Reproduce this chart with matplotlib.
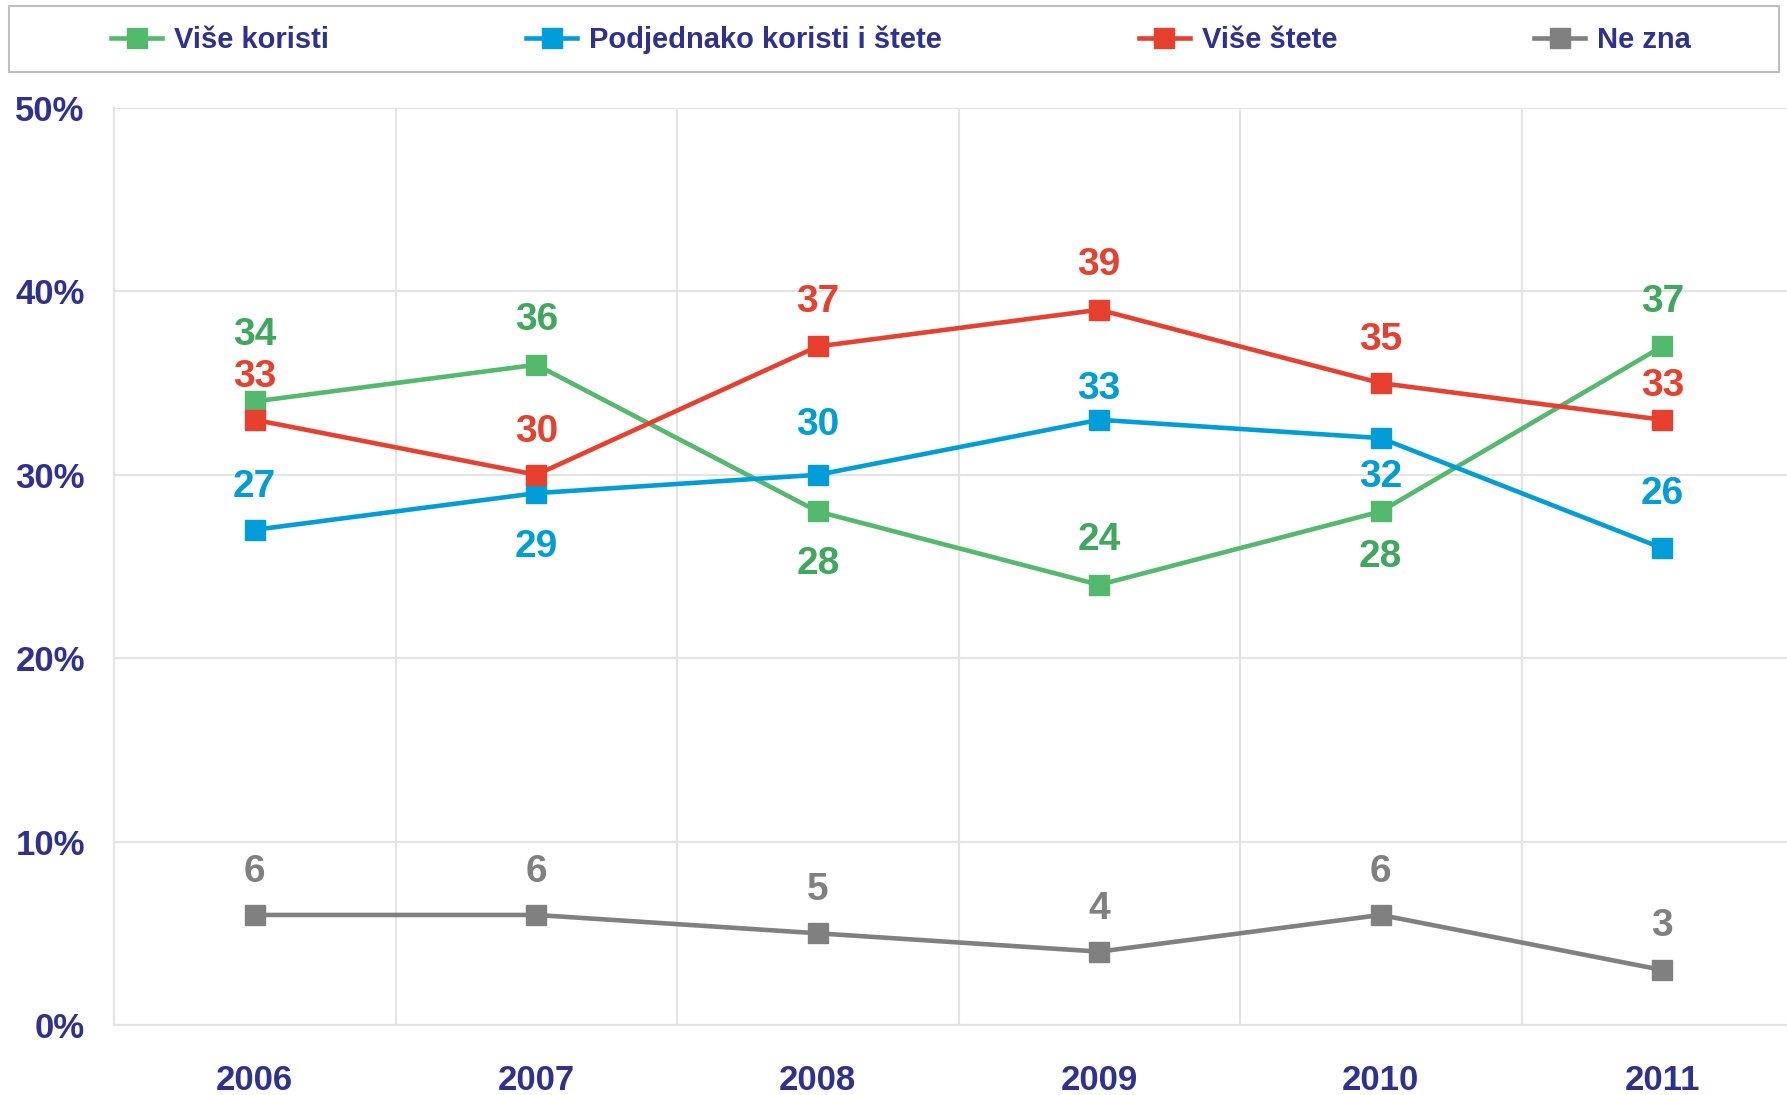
import matplotlib
matplotlib.use("Agg")
import matplotlib.pyplot as plt
from matplotlib.patches import Rectangle

plt.rcParams['font.family'] = ['Liberation Sans', 'DejaVu Sans']
plt.rcParams['font.weight'] = 'bold'

years = ["2006", "2007", "2008", "2009", "2010", "2011"]
series_names = ["Više koristi", "Podjednako koristi i štete", "Više štete", "Ne zna"]
vise_koristi = [34, 36, 28, 24, 28, 37]
podjednako = [27, 29, 30, 33, 32, 26]
vise_stete = [33, 30, 37, 39, 35, 33]
ne_zna = [6, 6, 5, 4, 6, 3]
y_ticks = [0, 10, 20, 30, 40, 50]

series = [vise_koristi, podjednako, vise_stete, ne_zna]
line_colors = ["#53B96D", "#009DD9", "#E8402F", "#808080"]
text_colors = ["#3FA85C", "#009DD9", "#E8402F", "#808080"]
# label offsets in points (style)
offsets = [
    [48, 32, -38, 32, -33, 32],
    [31, -39, 36, 22, -28, 39],
    [31, 31, 32, 32, 31, 24],
    [31, 31, 31, 31, 31, 32],
]
axis_text = "#2E3192"
grid_c = "#E4E4E4"

fig = plt.figure(figsize=(17.87, 10.95), dpi=100)
ax = fig.add_axes([114/1787, 1-1025/1095, (1803-114)/1787, (1025-108)/1095])

x = list(range(len(years)))
for vals, lc, tc, offs, name in zip(series, line_colors, text_colors, offsets, series_names):
    yv = [v/100 for v in vals]
    ax.plot(x, yv, color=lc, lw=3.3, marker='s', markersize=14, label=name, zorder=3)
    for xi, yi, v, o in zip(x, yv, vals, offs):
        ax.annotate(str(v), (xi, yi), xytext=(0, o), textcoords='offset points',
                    ha='center', va='center', color=tc, fontsize=28, fontweight='bold', zorder=4)

ax.set_xlim(-0.5, len(years)-0.5)
ax.set_ylim(0, 0.5)
ax.set_yticks([t/100 for t in y_ticks])
ax.set_yticklabels([f"{t}%" for t in y_ticks])
ax.set_xticks(x)
ax.set_xticklabels(years)
ax.set_xticks([i+0.5 for i in range(len(years)-1)], minor=True)
ax.tick_params(axis='both', which='both', length=0)
ax.tick_params(axis='y', pad=21, labelsize=25, labelcolor=axis_text)
ax.tick_params(axis='x', pad=28, labelsize=25, labelcolor=axis_text)
for lab in ax.get_xticklabels() + ax.get_yticklabels():
    lab.set_fontweight('bold')
ax.grid(axis='y', which='major', color=grid_c, lw=1.5)
ax.grid(axis='x', which='minor', color=grid_c, lw=1.5)
ax.grid(axis='x', which='major', visible=False)
for s in ['top', 'right']:
    ax.spines[s].set_visible(False)
for s in ['left', 'bottom']:
    ax.spines[s].set_color(grid_c)
    ax.spines[s].set_linewidth(1.5)
ax.set_axisbelow(True)

# legend frame
fig.patches.append(Rectangle((9/1787, 1-72/1095), (1779-9)/1787, (72-6)/1095,
                             transform=fig.transFigure, fill=False, edgecolor="#BFBFBF", lw=1.5))
handles, labels = ax.get_legend_handles_labels()
leg = fig.legend(handles, labels, loc='center', bbox_to_anchor=(901/1787, 1-40/1095), ncol=4,
                 frameon=False, fontsize=21, labelcolor=axis_text, handlelength=1.76,
                 handletextpad=0.4, columnspacing=6.75, markerscale=1.0)
for t in leg.get_texts():
    t.set_fontweight('bold')

fig.savefig("out.png", dpi=100)
